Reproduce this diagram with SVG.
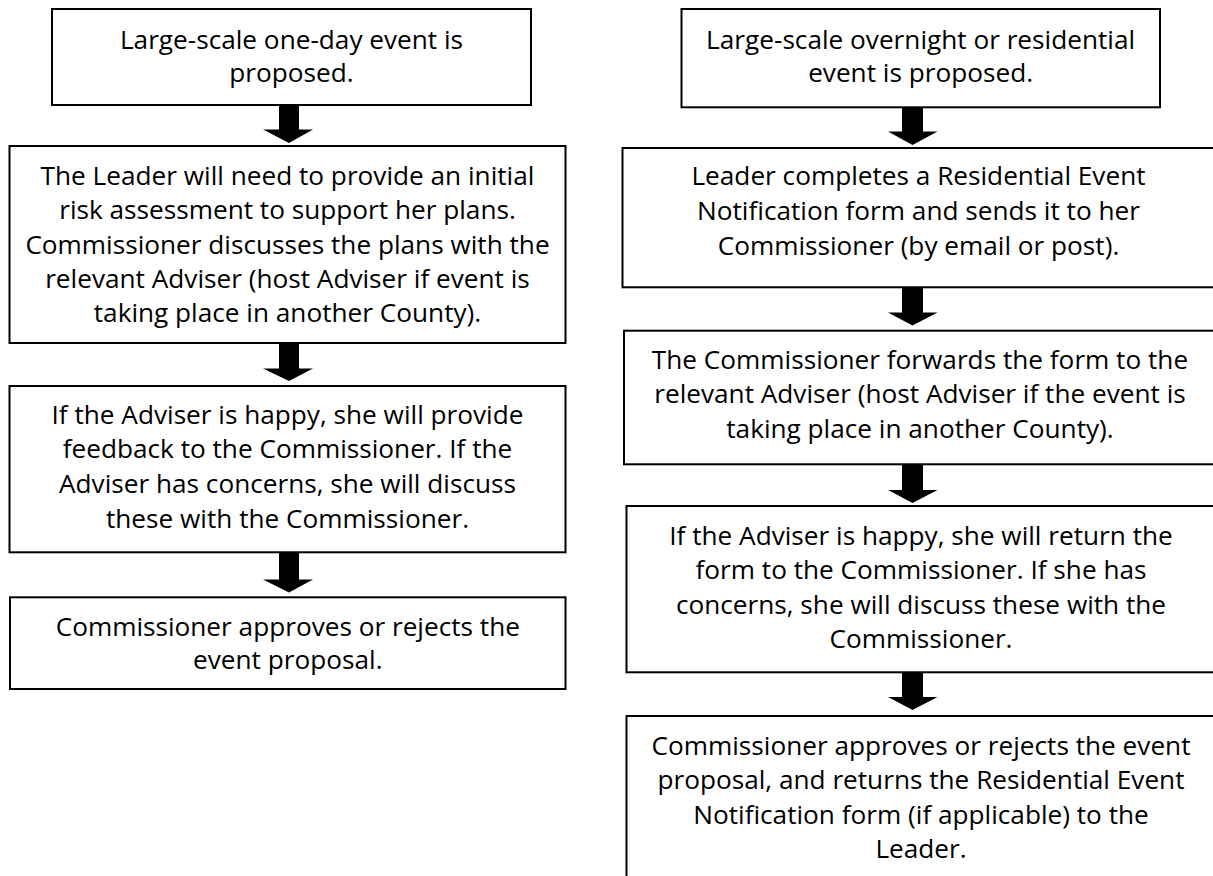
<svg xmlns="http://www.w3.org/2000/svg" width="1213" height="876" viewBox="0 0 1213 876">
<style>
  .box { fill: #ffffff; stroke: #000000; stroke-width: 2; }
  .t { font-family: "Open Sans", "Noto Sans", "DejaVu Sans", sans-serif; font-size: 26.2px; fill: #000000; text-anchor: middle; }
  .arrow { fill: #000000; stroke: none; }
</style>
<rect x="0" y="0" width="1213" height="876" fill="#ffffff"/>

<g id="connectors">
  <polygon class="arrow" points="279,105 299,105 299,129.5 313,129.5 289,143 263,129.5 279,129.5"/>
  <polygon class="arrow" points="279,343 299,343 299,368.5 313,368.5 289,381 263,368.5 279,368.5"/>
  <polygon class="arrow" points="279,552 299,552 299,579.5 313,579.5 289,592.5 263,579.5 279,579.5"/>
  <polygon class="arrow" points="902,107 923,107 923,131.5 937.5,131.5 912.5,145 888,131.5 902,131.5"/>
  <polygon class="arrow" points="902,287 923,287 923,312.5 937.5,312.5 912.5,325.5 888,312.5 902,312.5"/>
  <polygon class="arrow" points="902,464 923,464 923,490 937.5,490 912.5,503 888,490 902,490"/>
  <polygon class="arrow" points="902,672 923,672 923,697 937.5,697 912.5,710 888,697 902,697"/>
</g>

<g id="node-l1">
  <rect class="box" x="52" y="9" width="479" height="96"/>
  <text class="t" x="291.5" y="48.5">Large-scale one-day event is</text>
  <text class="t" x="291.5" y="82">proposed.</text>
</g>

<g id="node-l2">
  <rect class="box" x="9.5" y="146" width="556" height="197"/>
  <text class="t" x="287.5" y="185">The Leader will need to provide an initial</text>
  <text class="t" x="287.5" y="219.3">risk assessment to support her plans.</text>
  <text class="t" x="287.5" y="253.6">Commissioner discusses the plans with the</text>
  <text class="t" x="287.5" y="287.9">relevant Adviser (host Adviser if event is</text>
  <text class="t" x="287.5" y="322.2">taking place in another County).</text>
</g>

<g id="node-l3">
  <rect class="box" x="9.5" y="386" width="556" height="166.3"/>
  <text class="t" x="287.5" y="423.5">If the Adviser is happy, she will provide</text>
  <text class="t" x="287.5" y="458.2">feedback to the Commissioner. If the</text>
  <text class="t" x="287.5" y="492.9">Adviser has concerns, she will discuss</text>
  <text class="t" x="287.5" y="527.6">these with the Commissioner.</text>
</g>

<g id="node-l4">
  <rect class="box" x="10" y="597.3" width="555.5" height="91.7"/>
  <text class="t" x="287.8" y="636">Commissioner approves or rejects the</text>
  <text class="t" x="287.8" y="669">event proposal.</text>
</g>

<g id="node-r1">
  <rect class="box" x="681.5" y="9" width="478.5" height="98.3"/>
  <text class="t" x="920.6" y="48.5">Large-scale overnight or residential</text>
  <text class="t" x="920.6" y="82">event is proposed.</text>
</g>

<g id="node-r2">
  <rect class="box" x="622.5" y="148" width="594" height="139.3"/>
  <text class="t" x="918.5" y="185">Leader completes a Residential Event</text>
  <text class="t" x="918.5" y="220">Notification form and sends it to her</text>
  <text class="t" x="918.5" y="255">Commissioner (by email or post).</text>
</g>

<g id="node-r3">
  <rect class="box" x="624" y="330.7" width="592.5" height="133.6"/>
  <text class="t" x="920" y="368.5">The Commissioner forwards the form to the</text>
  <text class="t" x="920" y="403">relevant Adviser (host Adviser if the event is</text>
  <text class="t" x="920" y="437.5">taking place in another County).</text>
</g>

<g id="node-r4">
  <rect class="box" x="626.5" y="506" width="590" height="166.3"/>
  <text class="t" x="921" y="545">If the Adviser is happy, she will return the</text>
  <text class="t" x="921" y="579.4">form to the Commissioner. If she has</text>
  <text class="t" x="921" y="613.8">concerns, she will discuss these with the</text>
  <text class="t" x="921" y="648.2">Commissioner.</text>
</g>

<g id="node-r5">
  <rect class="box" x="626.5" y="716" width="590" height="180"/>
  <text class="t" x="921" y="755">Commissioner approves or rejects the event</text>
  <text class="t" x="921" y="789.4">proposal, and returns the Residential Event</text>
  <text class="t" x="921" y="823.8">Notification form (if applicable) to the</text>
  <text class="t" x="921" y="858.2">Leader.</text>
</g>
</svg>
